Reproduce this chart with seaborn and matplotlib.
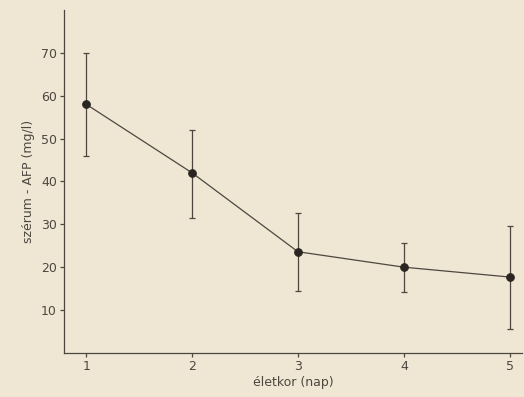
import matplotlib
matplotlib.use('Agg')
import matplotlib.pyplot as plt
import seaborn as sns
import pandas as pd

# values
days = [1, 2, 3, 4, 5]
afp_mean = [58, 42, 23.6, 20, 17.7]
afp_upper = [70, 52, 32.6, 25.6, 29.6]
afp_lower = [46, 31.4, 14.5, 14.3, 5.6]

paper = '#efe7d4'
ink = '#4d4740'

sns.set_theme(style='ticks')
plt.rcParams['font.family'] = ['DejaVu Sans']

df = pd.DataFrame({'day': days, 'afp': afp_mean})
err_lo = [m - lo for m, lo in zip(afp_mean, afp_lower)]
err_hi = [hi - m for m, hi in zip(afp_mean, afp_upper)]

fig = plt.figure(figsize=(5.24, 3.97), dpi=100, facecolor=paper)
ax = fig.add_axes([0.122, 0.111, 0.875, 0.864])
ax.set_facecolor(paper)

ax.errorbar(days, afp_mean, yerr=[err_lo, err_hi], fmt='none',
            ecolor=ink, elinewidth=0.9, capsize=2, capthick=0.9)
sns.lineplot(data=df, x='day', y='afp', ax=ax, color=ink, linewidth=0.9,
             marker='o', markersize=5.5, markeredgecolor='#2a2520',
             markerfacecolor='#2a2520')

ax.set_xlim(0.79, 5.12)
ax.set_ylim(0, 80)
ax.set_xticks(days)
ax.set_yticks([10, 20, 30, 40, 50, 60, 70])
ax.set_xlabel('életkor (nap)', color=ink, fontsize=9, labelpad=2)
ax.set_ylabel('szérum - AFP (mg/l)', color=ink, fontsize=9, labelpad=4)

sns.despine(ax=ax)
for s in ['left', 'bottom']:
    ax.spines[s].set_color(ink)
    ax.spines[s].set_linewidth(0.9)
ax.tick_params(colors=ink, labelsize=9, length=3, width=0.9, pad=2)

fig.savefig('out.png', dpi=100, facecolor=paper)
